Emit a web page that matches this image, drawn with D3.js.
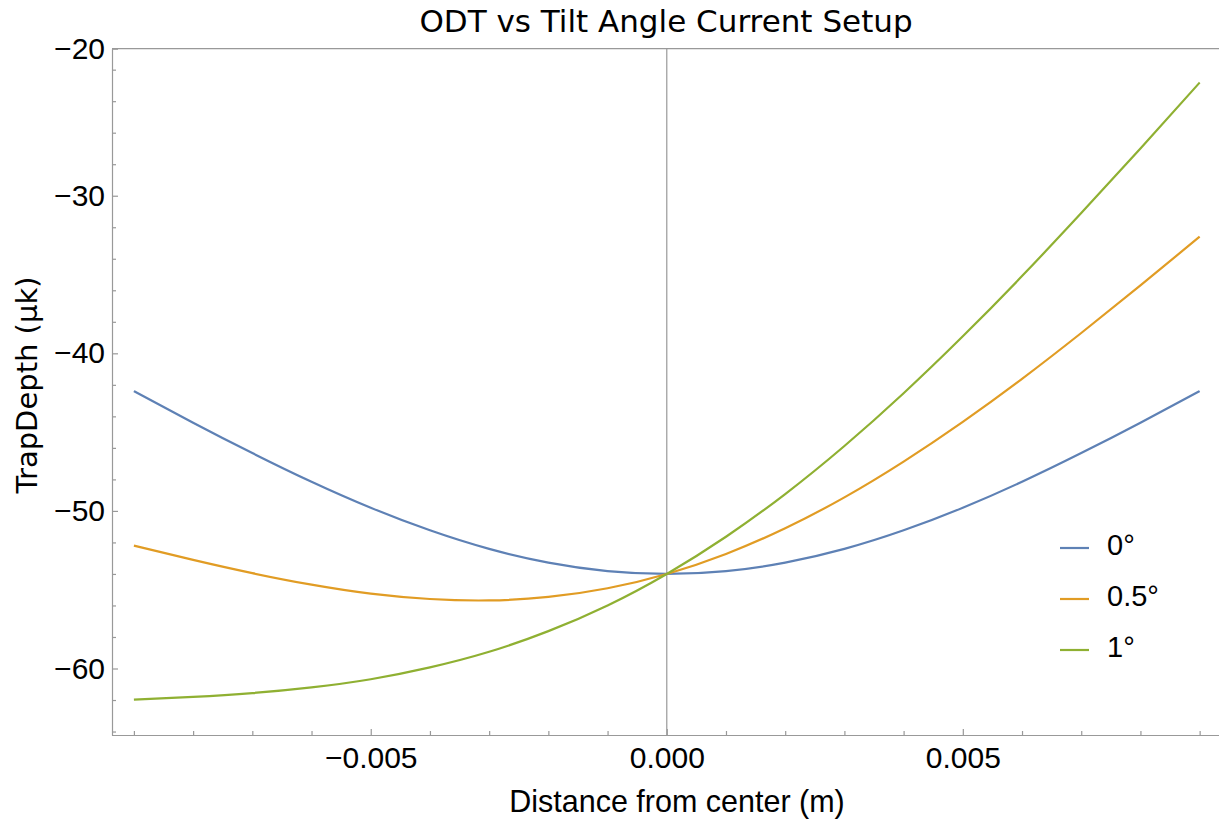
<!DOCTYPE html>
<html>
<head>
<meta charset="utf-8">
<script src="https://cdn.jsdelivr.net/npm/d3@7"></script>
<style>
  body { margin: 0; background: #fff; }
  svg { display: block; }
</style>
</head>
<body>
<main></main>
<script>
// distance from center (m)
const distance = [-0.009, -0.008, -0.007, -0.006, -0.005, -0.004, -0.003, -0.002, -0.001, 0,
    0.001, 0.002, 0.003, 0.004, 0.005, 0.006, 0.007, 0.008, 0.009];
// trap depth (µk), one list per tilt angle
const tilt0 = [-42.40, -44.40, -46.33, -48.15, -49.80, -51.23, -52.41, -53.28, -53.82, -54.00,
    -53.82, -53.28, -52.41, -51.23, -49.80, -48.15, -46.33, -44.40, -42.40];
const tilt05 = [-52.20, -53.11, -53.95, -54.68, -55.25, -55.59, -55.68, -55.46, -54.91, -54.00,
    -52.73, -51.10, -49.14, -46.87, -44.35, -41.62, -38.71, -35.69, -32.60];
const tilt1 = [-61.98, -61.80, -61.56, -61.20, -60.68, -59.93, -58.94, -57.63, -56.00, -54.00,
    -51.64, -48.93, -45.88, -42.53, -38.92, -35.10, -31.10, -27.00, -22.82];
const seriesNames = ['0°', '0.5°', '1°'];
const seriesColors = ['#5e81b5', '#e19c24', '#8fb032'];
const xTicks = [-0.005, 0, 0.005];
const yTicks = [-60, -50, -40, -30, -20];

const w = 1219;
const h = 821;
const plotLeft = 112, plotRight = 1218, plotTop = 48.7, plotBottom = 735;
const axisColor = '#999';
const tickFont = '"Liberation Sans", Arial, sans-serif';

const svg = d3.select('main').append('svg').attr('width', w).attr('height', h);

const x = d3.scaleLinear().domain([-0.00937, 0.00931]).range([plotLeft, plotRight]);
const y = d3.scaleLinear().domain([-64.22, -20.67]).range([plotBottom, plotTop]).clamp(true);

// frame lines: top edge and the vertical line at x = 0
svg.append('line')
    .attr('x1', plotLeft).attr('x2', w).attr('y1', plotTop).attr('y2', plotTop)
    .attr('stroke', axisColor).attr('stroke-width', 1.2);
svg.append('line')
    .attr('x1', x(0)).attr('x2', x(0)).attr('y1', plotTop).attr('y2', plotBottom)
    .attr('stroke', axisColor).attr('stroke-width', 1.2);

// x axis
const xMinor = d3.range(-9, 10).map(i => i / 1000).filter(v => Math.round(v * 1000) % 5 !== 0);
svg.append('g')
    .attr('transform', `translate(0,${plotBottom})`)
    .call(d3.axisBottom(x).tickValues(xMinor).tickSize(-4).tickSizeOuter(0).tickFormat(''))
    .call(g => g.select('.domain').remove());
const xAxis = svg.append('g')
    .attr('transform', `translate(0,${plotBottom})`)
    .call(d3.axisBottom(x).tickValues(xTicks).tickSize(-6).tickSizeOuter(0).tickPadding(12)
        .tickFormat(d3.format('.3f')));
xAxis.select('.domain').attr('d', `M${plotLeft},0.5H${w}`);

// y axis
const yMinor = d3.range(-64, -20, 2).filter(v => v % 10 !== 0);
svg.append('g')
    .attr('transform', `translate(${plotLeft},0)`)
    .call(d3.axisLeft(y).tickValues(yMinor).tickSize(-4).tickSizeOuter(0).tickFormat(''))
    .call(g => g.select('.domain').remove());
const yAxis = svg.append('g')
    .attr('transform', `translate(${plotLeft},0)`)
    .call(d3.axisLeft(y).tickValues(yTicks).tickSize(-6).tickSizeOuter(0).tickPadding(7)
        .tickFormat(d3.format('d')));

svg.selectAll('.tick line, .domain').attr('stroke', axisColor).attr('stroke-width', 1.2);
svg.selectAll('.tick text')
    .attr('fill', '#000')
    .style('font-family', tickFont)
    .style('font-size', '30px');

// curves
const series = [tilt0, tilt05, tilt1];
const line = d3.line()
    .x((d, i) => x(distance[i]))
    .y(d => y(d))
    .curve(d3.curveNatural);
svg.append('g')
    .selectAll('path')
    .data(series)
    .enter()
    .append('path')
    .attr('d', d => line(d))
    .attr('fill', 'none')
    .attr('stroke', (d, i) => seriesColors[i])
    .attr('stroke-width', 2.2);

// legend
const legend = svg.append('g').attr('transform', 'translate(1060,548)');
const legendItem = legend.selectAll('g')
    .data(seriesNames)
    .enter()
    .append('g')
    .attr('transform', (d, i) => `translate(0,${i * 51})`);
legendItem.append('line')
    .attr('x1', 0).attr('x2', 29)
    .attr('stroke', (d, i) => seriesColors[i])
    .attr('stroke-width', 2.2);
legendItem.append('text')
    .attr('x', 47)
    .attr('y', 7)
    .style('font-family', tickFont)
    .style('font-size', '29px')
    .text(d => d);

// title and axis labels
svg.append('text')
    .attr('x', 666)
    .attr('y', 31.5)
    .attr('text-anchor', 'middle')
    .style('font-family', '"DejaVu Sans", sans-serif')
    .style('font-size', '31px')
    .text('ODT vs Tilt Angle Current Setup');
svg.append('text')
    .attr('x', 677)
    .attr('y', 812)
    .attr('text-anchor', 'middle')
    .style('font-family', tickFont)
    .style('font-size', '30.5px')
    .text('Distance from center (m)');
svg.append('text')
    .attr('transform', 'translate(37,385) rotate(-90)')
    .attr('text-anchor', 'middle')
    .style('font-family', '"DejaVu Sans", sans-serif')
    .style('font-size', '29px')
    .text('TrapDepth (μk)');
</script>
</body>
</html>
